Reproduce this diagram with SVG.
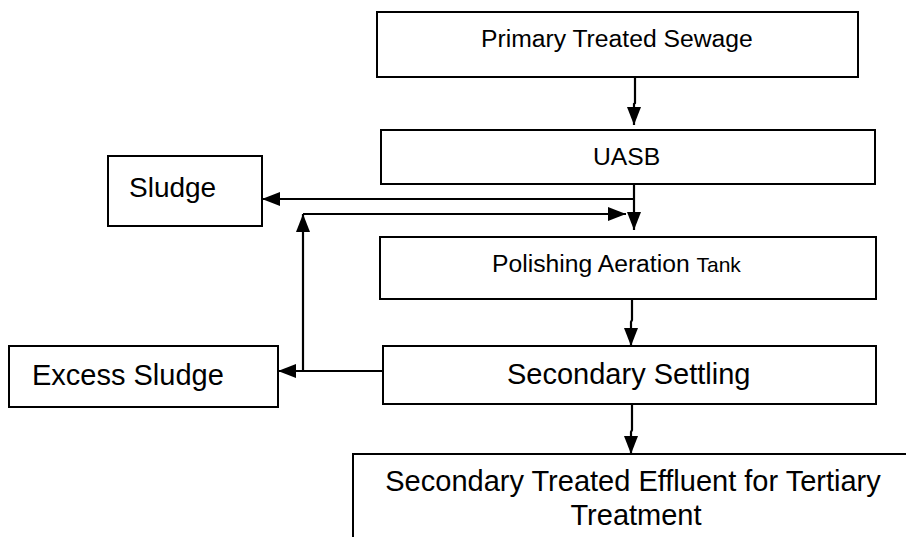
<svg xmlns="http://www.w3.org/2000/svg" width="906" height="537" viewBox="0 0 906 537">
  <style>
    .box { fill: #ffffff; stroke: #000000; stroke-width: 2; }
    .lbl { font-family: "Liberation Sans", Arial, sans-serif; fill: #000000; }
    .conn { fill: none; stroke: #000000; stroke-width: 2.2; }
  </style>
  <defs>
    <marker id="arrow" viewBox="0 0 18 14" refX="18" refY="7" markerUnits="userSpaceOnUse" markerWidth="18" markerHeight="14" orient="auto">
      <path d="M0,0 L18,7 L0,14 Z" fill="#000000"/>
    </marker>
  </defs>
  <rect width="906" height="537" fill="#ffffff"/>

  <g id="primary-treated-sewage">
    <rect class="box" x="377" y="12" width="481" height="65"/>
    <text class="lbl" x="481" y="47" font-size="24.7">Primary Treated Sewage</text>
  </g>

  <g id="uasb">
    <rect class="box" x="381" y="130" width="494" height="54"/>
    <text class="lbl" x="593" y="165" font-size="24.7">UASB</text>
  </g>

  <g id="sludge">
    <rect class="box" x="108" y="156" width="154" height="70"/>
    <text class="lbl" x="129" y="197" font-size="28">Sludge</text>
  </g>

  <g id="polishing-aeration-tank">
    <rect class="box" x="380" y="237" width="496" height="62"/>
    <text class="lbl" x="492" y="272" font-size="24.7">Polishing Aeration <tspan font-size="21">Tank</tspan></text>
  </g>

  <g id="secondary-settling">
    <rect class="box" x="383" y="346" width="493" height="58"/>
    <text class="lbl" x="507" y="384" font-size="29">Secondary Settling</text>
  </g>

  <g id="excess-sludge">
    <rect class="box" x="9" y="346" width="269" height="61"/>
    <text class="lbl" x="32" y="385" font-size="29">Excess Sludge</text>
  </g>

  <g id="secondary-treated-effluent">
    <rect class="box" x="353" y="454" width="600" height="120"/>
    <text class="lbl" x="633" y="491" font-size="29" text-anchor="middle">Secondary Treated Effluent for Tertiary</text>
    <text class="lbl" x="636" y="525" font-size="29" text-anchor="middle">Treatment</text>
  </g>

  <g id="connectors">
    <!-- primary sewage down to UASB -->
    <path class="conn" d="M635,77 V103 L634,104 V125" marker-end="url(#arrow)"/>
    <!-- UASB outlet down to the aeration tank -->
    <path class="conn" d="M634,184 V230" marker-end="url(#arrow)"/>
    <!-- sludge drawn off the UASB outlet -->
    <path class="conn" d="M634,199 H262" marker-end="url(#arrow)"/>
    <!-- settled sludge out to excess sludge -->
    <path class="conn" d="M383,371 H278" marker-end="url(#arrow)"/>
    <!-- return sludge riser -->
    <path class="conn" d="M303,371 V214" marker-end="url(#arrow)"/>
    <!-- return sludge back to the aeration feed -->
    <path class="conn" d="M303,214 H626" marker-end="url(#arrow)"/>
    <!-- aeration tank to secondary settling -->
    <path class="conn" d="M632,299 V320 L631,322 V346" marker-end="url(#arrow)"/>
    <!-- secondary settling to effluent -->
    <path class="conn" d="M632,404 V430 L631,432 V454" marker-end="url(#arrow)"/>
  </g>
</svg>
